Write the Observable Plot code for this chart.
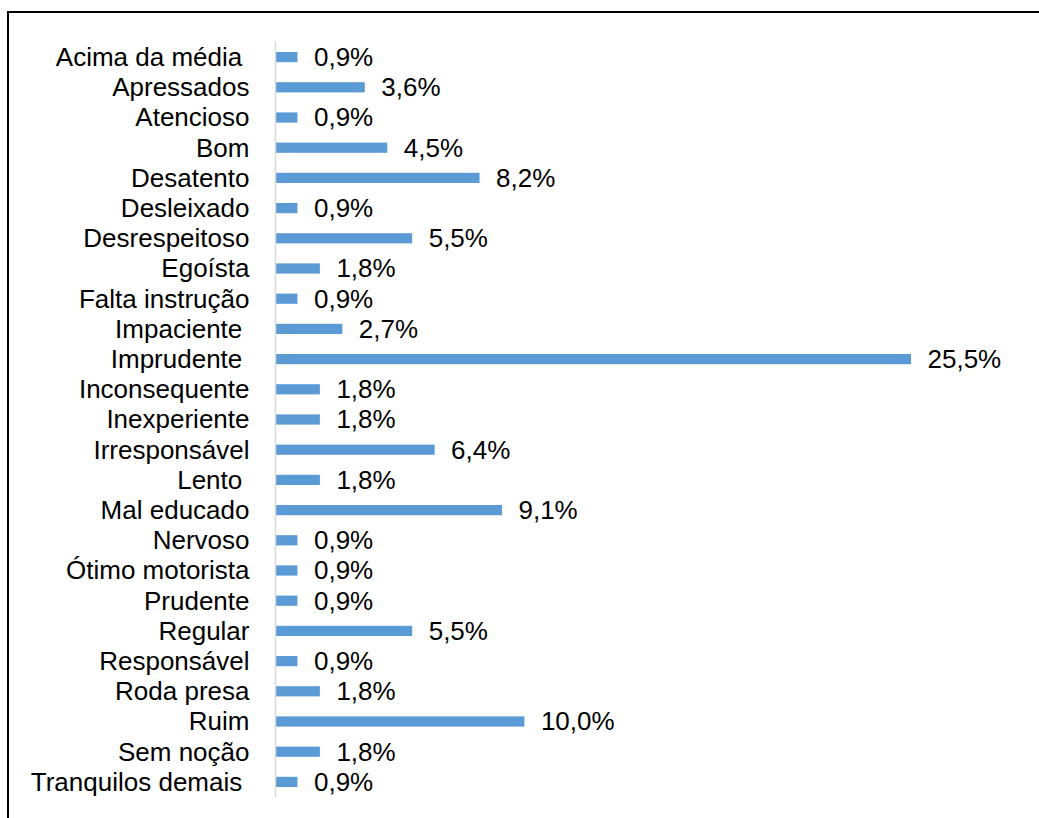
<!DOCTYPE html>
<html>
<head>
<meta charset="utf-8">
<script src="https://cdn.jsdelivr.net/npm/d3@7"></script>
<script src="https://cdn.jsdelivr.net/npm/@observablehq/plot@0.6"></script>
<style>
  html, body { margin: 0; padding: 0; background: #fff; overflow: hidden; }
  #wrap { position: relative; width: 1039px; height: 818px; }
  #border { position: absolute; left: 7px; top: 11px; width: 2000px; height: 2000px;
            border: 2px solid #000; pointer-events: none; }
  svg { background: transparent !important; }
</style>
</head>
<body>
<div id="wrap"><div id="chart"></div><div id="border"></div></div>
<script>
const categories = [
  "Acima da média ", "Apressados", "Atencioso", "Bom", "Desatento", "Desleixado",
  "Desrespeitoso", "Egoísta", "Falta instrução", "Impaciente ", "Imprudente ",
  "Inconsequente", "Inexperiente", "Irresponsável", "Lento ", "Mal educado",
  "Nervoso", "Ótimo motorista", "Prudente", "Regular", "Responsável",
  "Roda presa", "Ruim", "Sem noção", "Tranquilos demais "
];
const values = [
  0.9, 3.6, 0.9, 4.5, 8.2, 0.9,
  5.5, 1.8, 0.9, 2.7, 25.5,
  1.8, 1.8, 6.4, 1.8, 9.1,
  0.9, 0.9, 0.9, 5.5, 0.9,
  1.8, 10.0, 1.8, 0.9
];

const data = categories.map((c, i) => ({category: c, value: values[i]}));
const fmt = v => v.toFixed(1).replace(".", ",") + "%";
const font = "'Liberation Sans', Arial, Helvetica, sans-serif";

const chart = Plot.plot({
  width: 1039,
  height: 818,
  marginLeft: 275,
  marginRight: 128,
  marginTop: 42,
  marginBottom: 21,
  style: {fontFamily: font, fontSize: "26px", color: "#000", background: "transparent"},
  x: {domain: [0, 25.5], axis: null},
  y: {domain: categories, padding: 0, round: false, axis: null},
  marks: [
    Plot.barX(data, {x: "value", y: "category", fill: "#5B9BD5", insetTop: 10, insetBottom: 10}),
    Plot.ruleX([0], {stroke: "#D9D9D9", strokeWidth: 1.5}),
    Plot.axisY({
      label: null, tickSize: 0, tickPadding: 26, fontSize: 26, fill: "#000",
      tickFormat: d => d.replace(/ $/, "\u00a0")
    }),
    Plot.text(data, {
      x: "value", y: "category", text: d => fmt(d.value),
      textAnchor: "start", dx: 16, fontSize: 26, fill: "#000"
    })
  ]
});
document.getElementById("chart").appendChild(chart);
</script>
</body>
</html>
